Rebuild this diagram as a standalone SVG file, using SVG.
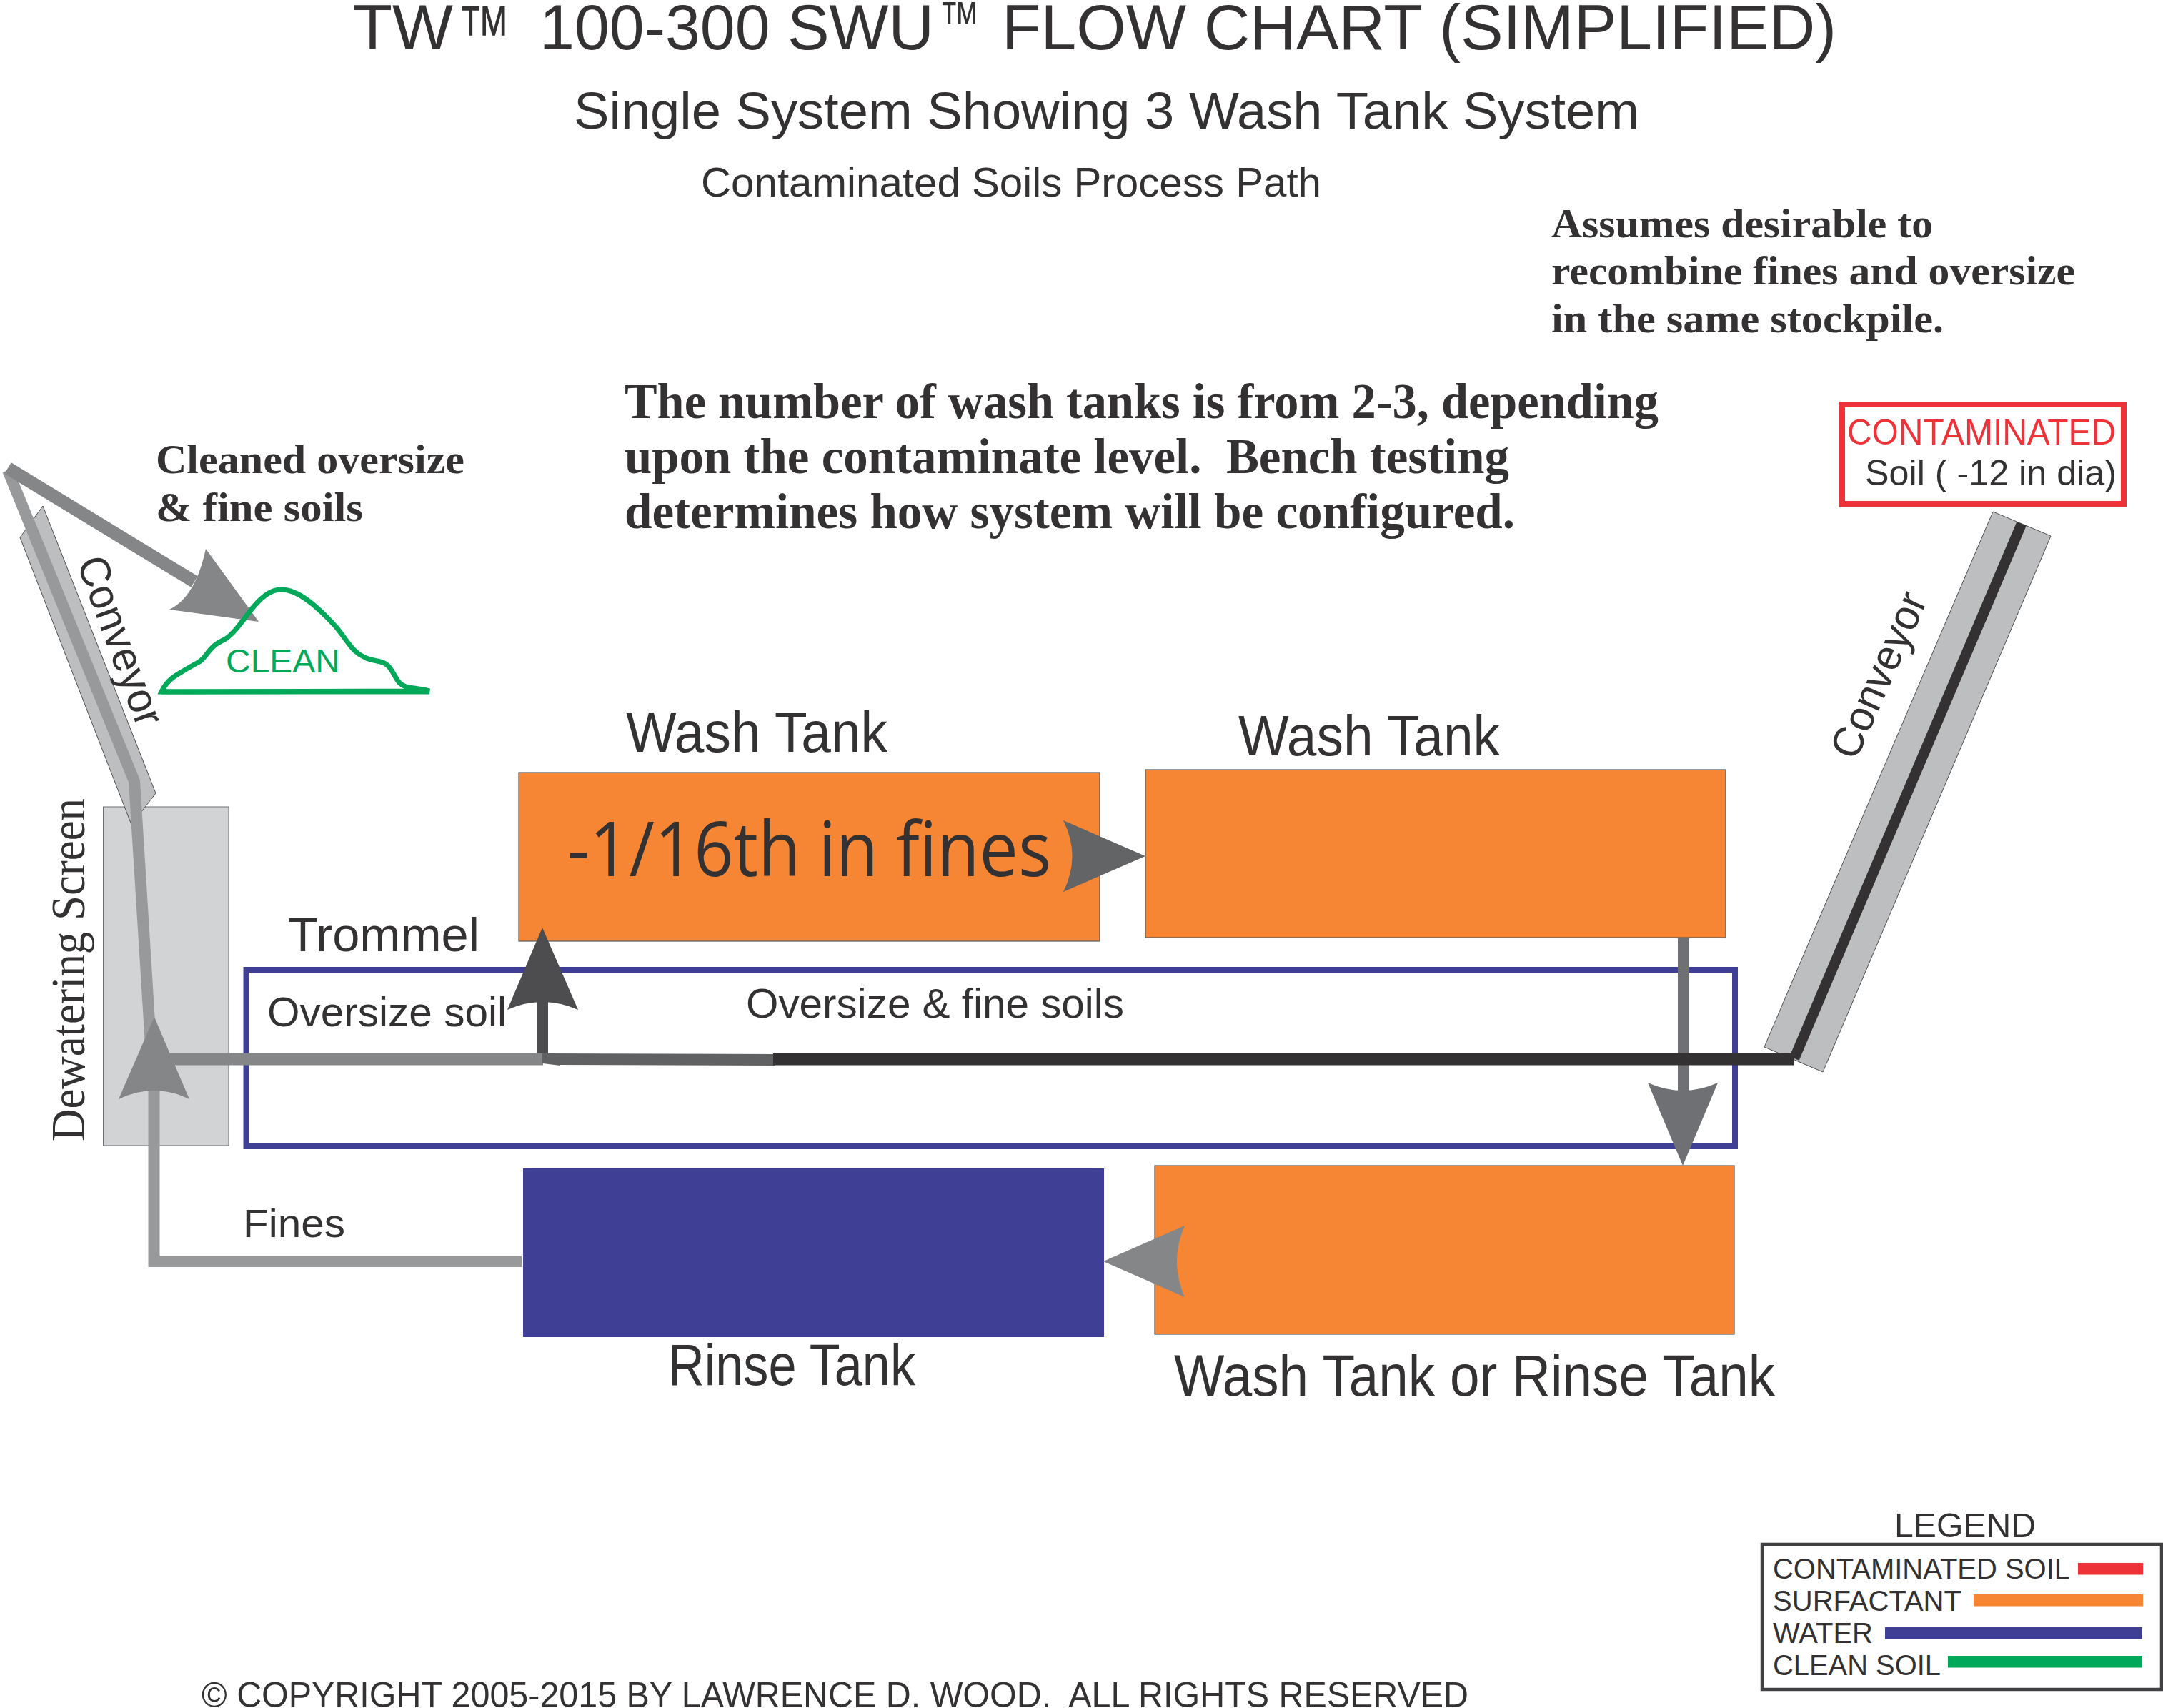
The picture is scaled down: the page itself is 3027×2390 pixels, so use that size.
<svg xmlns="http://www.w3.org/2000/svg" width="3027" height="2390" viewBox="0 0 3027 2390">
<style>
text{fill:#333132;font-family:"Liberation Sans",Arial,sans-serif;white-space:pre}
.b{font-family:"Liberation Serif","Times New Roman",serif;font-weight:700}
.s{font-family:"Liberation Serif","Times New Roman",serif}
.m{font-family:"Open Sans","Liberation Sans",sans-serif}
.tank{fill:#f68633;stroke:#58595b;stroke-width:1.2}
.conv{fill:#bcbec0;stroke:#4d4d4f;stroke-width:1}
.line{fill:none;stroke-linejoin:miter}
</style>
<rect width="3027" height="2390" fill="#fff"/>
<g id="titles">
<text y="69" font-size="89"><tspan x="494" y="69" textLength="140" lengthAdjust="spacingAndGlyphs">TW</tspan><tspan x="640" y="83" font-size="108" textLength="75" lengthAdjust="spacingAndGlyphs">™</tspan><tspan x="755" y="69" textLength="552" lengthAdjust="spacingAndGlyphs">100-300 SWU</tspan><tspan x="1314" y="58" font-size="80" textLength="57" lengthAdjust="spacingAndGlyphs">™</tspan><tspan x="1402" y="69" textLength="1168" lengthAdjust="spacingAndGlyphs">FLOW CHART (SIMPLIFIED)</tspan></text>
<text x="803" y="180" font-size="72" textLength="1491" lengthAdjust="spacingAndGlyphs">Single System Showing 3 Wash Tank System</text>
<text x="981" y="275" font-size="58" textLength="868" lengthAdjust="spacingAndGlyphs">Contaminated Soils Process Path</text>
<g class="notes" font-size="58">
<text class="b" x="2171" y="332" textLength="534" lengthAdjust="spacingAndGlyphs">Assumes desirable to</text>
<text class="b" x="2171" y="398" textLength="733" lengthAdjust="spacingAndGlyphs">recombine fines and oversize</text>
<text class="b" x="2171" y="465" textLength="549" lengthAdjust="spacingAndGlyphs">in the same stockpile.</text>
</g>
<g font-size="70">
<text class="b" x="874" y="585" textLength="1447" lengthAdjust="spacingAndGlyphs">The number of wash tanks is from 2-3, depending</text>
<text class="b" x="874" y="662" textLength="1238" lengthAdjust="spacingAndGlyphs">upon the contaminate level.  Bench testing</text>
<text class="b" x="874" y="739" textLength="1246" lengthAdjust="spacingAndGlyphs">determines how system will be configured.</text>
</g>
</g>
<g id="conveyor-right">
<polygon class="conv" points="2789,716 2870,750 2551,1500 2469,1465"/>
<text font-size="60" transform="translate(2597 1066) rotate(-66)" textLength="248" lengthAdjust="spacingAndGlyphs">Conveyor</text>
</g>
<g id="dewatering-screen">
<rect x="144.500" y="1129" width="175.500" height="474" fill="#d1d3d4" stroke="#6d6e71" stroke-width="1"/>
<text class="s" font-size="67" transform="translate(118 1597) rotate(-90)" textLength="480" lengthAdjust="spacingAndGlyphs">Dewatering Screen</text>
</g>
<g id="conveyor-left">
<polygon class="conv" points="60,708 28,752 184,1154 218,1110"/>
<text font-size="60" transform="translate(107 787) rotate(69.800)" textLength="248" lengthAdjust="spacingAndGlyphs">Conveyor</text>
</g>
<g id="wash-tank-1">
<rect class="tank" x="726" y="1081" width="813" height="236"/>
<text x="876" y="1052" font-size="80" textLength="366" lengthAdjust="spacingAndGlyphs">Wash Tank</text>
<text class="m" x="794" y="1226" font-size="107" textLength="677" lengthAdjust="spacingAndGlyphs">-1/16th in fines</text>
</g>
<g id="wash-tank-2">
<rect class="tank" x="1603" y="1077" width="812" height="235"/>
<text x="1733" y="1057" font-size="80" textLength="366" lengthAdjust="spacingAndGlyphs">Wash Tank</text>
</g>
<g id="wash-tank-3">
<rect class="tank" x="1616" y="1631" width="811" height="236"/>
<text x="1643" y="1953" font-size="82" textLength="841" lengthAdjust="spacingAndGlyphs">Wash Tank or Rinse Tank</text>
</g>
<g id="rinse-tank">
<rect x="732" y="1635" width="813" height="236" fill="#3f4095"/>
<text x="935" y="1938" font-size="82" textLength="346" lengthAdjust="spacingAndGlyphs">Rinse Tank</text>
</g>
<g id="trommel">
<rect x="344.500" y="1357" width="2083.500" height="247" fill="none" stroke="#3f4095" stroke-width="8"/>
<text x="403" y="1331" font-size="67" textLength="268" lengthAdjust="spacingAndGlyphs">Trommel</text>
<text x="374" y="1436" font-size="58" textLength="335" lengthAdjust="spacingAndGlyphs">Oversize soil</text>
<text x="1044" y="1424" font-size="58" textLength="529" lengthAdjust="spacingAndGlyphs">Oversize &amp; fine soils</text>
</g>
<g id="connectors" class="line">
<path d="M11 658L188 1093L215 1526" stroke="#98999b" stroke-width="16"/>
<path d="M730 1765H215.500V1526" stroke="#98999b" stroke-width="16"/>
<path d="M238 1482H760" stroke="#848688" stroke-width="17"/>
<path d="M216 1423L265 1538Q216 1514 166 1538Z" fill="#848688"/>
<path d="M759 1474V1400" stroke="#4d4d4f" stroke-width="16"/>
<path d="M759 1298L809 1413Q759 1391 710 1413Z" fill="#4d4d4f"/>
<path d="M759 1474L1085 1475V1491L784 1490V1491L759 1488Z" fill="#606163"/>
<path d="M2356 1312V1526" stroke="#6f7073" stroke-width="16"/>
<path d="M2355 1631L2404 1515Q2355 1537 2306 1515Z" fill="#6f7073"/>
<path d="M2511 1481L2829 733" stroke="#333132" stroke-width="14.500"/>
<path d="M1082 1482H2511" stroke="#333132" stroke-width="17"/>
<path d="M1603 1198L1488 1248Q1513 1198 1488 1148Z" fill="#636466"/>
<path d="M1544 1765L1658 1815Q1636 1765 1658 1715Z" fill="#858688"/>
<path d="M11 655L272 814" stroke="#848688" stroke-width="18"/>
<path d="M362 870L288 768Q273.500 835.500 237 853Z" fill="#848688"/>
</g>
<g id="clean-pile">
<path d="M226 968C234 951 243 946 279 926C291 918 290 906 314 895C327 888 342 865 354 850C369 832 381 825 394 825C416 825 441 845 470 877C481 890 489 904 497 911C511 924 526 924 532 926C546 928 551 945 557 953C565 965 581 961 601 967Z" fill="none" stroke="#00a859" stroke-width="7"/>
<path d="M226 968H601" fill="none" stroke="#00a859" stroke-width="7"/>
<text x="316" y="941" font-size="47" style="fill:#00a859" textLength="160" lengthAdjust="spacingAndGlyphs">CLEAN</text>
</g>
<g id="clean-label" font-size="58">
<text class="b" x="218" y="662" textLength="432" lengthAdjust="spacingAndGlyphs">Cleaned oversize</text>
<text class="b" x="218" y="729" textLength="290" lengthAdjust="spacingAndGlyphs">&amp; fine soils</text>
</g>
<text id="fines-label" x="340" y="1731" font-size="56" textLength="143" lengthAdjust="spacingAndGlyphs">Fines</text>
<g id="contaminated">
<rect x="2578" y="566" width="394" height="139" fill="none" stroke="#ee3338" stroke-width="8"/>
<text x="2585" y="622" font-size="50" style="fill:#ee3338" textLength="376" lengthAdjust="spacingAndGlyphs">CONTAMINATED</text>
<text x="2610" y="679" font-size="50" textLength="352" lengthAdjust="spacingAndGlyphs">Soil ( -12 in dia)</text>
</g>
<g id="legend">
<text x="2651" y="2151" font-size="48" textLength="198" lengthAdjust="spacingAndGlyphs">LEGEND</text>
<rect x="2466" y="2161" width="559" height="203" fill="none" stroke="#414042" stroke-width="4.500"/>
<text x="2481" y="2209" font-size="40" textLength="416" lengthAdjust="spacingAndGlyphs">CONTAMINATED SOIL</text>
<text x="2481" y="2254" font-size="40" textLength="264" lengthAdjust="spacingAndGlyphs">SURFACTANT</text>
<text x="2481" y="2299" font-size="40" textLength="140" lengthAdjust="spacingAndGlyphs">WATER</text>
<text x="2481" y="2344" font-size="40" textLength="235" lengthAdjust="spacingAndGlyphs">CLEAN SOIL</text>
<rect x="2908" y="2187" width="91" height="16.500" fill="#ee3338"/>
<rect x="2762" y="2231" width="237" height="16.500" fill="#f68633"/>
<rect x="2638" y="2277" width="360" height="16.500" fill="#3f4095"/>
<rect x="2726" y="2317" width="272" height="16.500" fill="#00a859"/>
</g>
<text id="copyright" x="282" y="2389" font-size="50" textLength="1773" lengthAdjust="spacingAndGlyphs">© COPYRIGHT 2005-2015 BY LAWRENCE D. WOOD.  ALL RIGHTS RESERVED</text>
</svg>
